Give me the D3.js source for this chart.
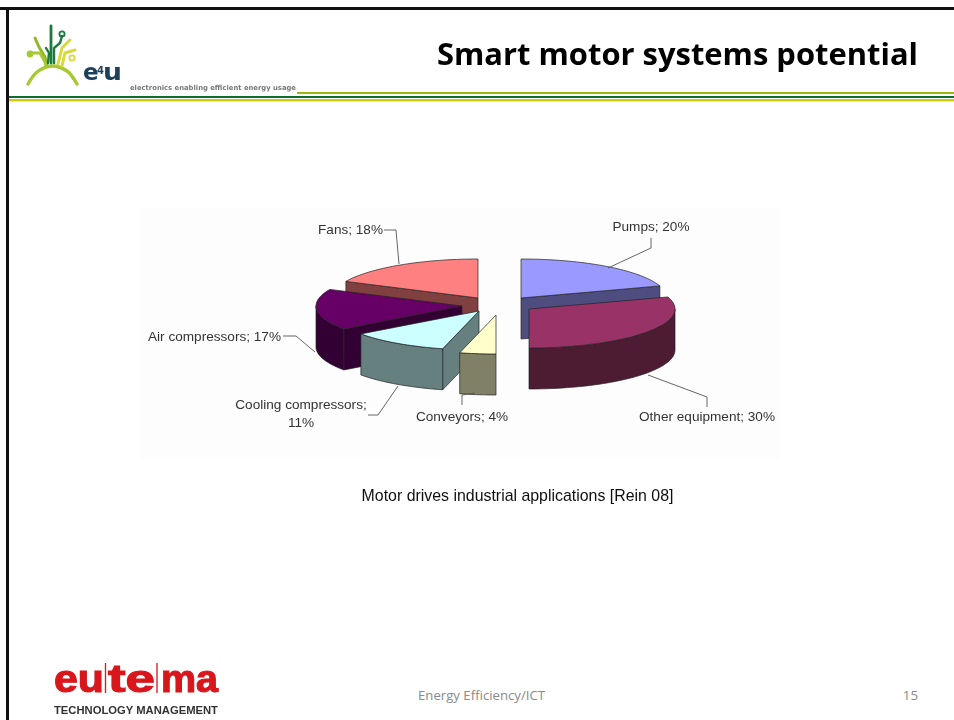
<!DOCTYPE html>
<html>
<head>
<meta charset="utf-8">
<script src="https://cdn.jsdelivr.net/npm/d3@7"></script>
<style>
  html, body { margin: 0; padding: 0; background: #fff; overflow: hidden; }
  svg { display: block; }
</style>
</head>
<body>
<div id="main"></div>
<script>
// values
const categories = ["Pumps", "Other equipment", "Conveyors", "Cooling compressors", "Air compressors", "Fans"];
const shares = [20, 30, 4, 11, 17, 18];

const topColors = ["#9999ff", "#993366", "#ffffcc", "#ccffff", "#660066", "#ff8080"];
const sideColors = ["#4d4d80", "#4d1a33", "#808066", "#668080", "#330033", "#804040"];

// exploded position of every slice tip
const sliceTips = [[521, 298], [529, 309], [496, 315], [479, 311], [462, 306], [478, 298]];
const paintOrder = [5, 0, 4, 1, 3, 2];

const labelLines = [
  { x: 651, y: 231, anchor: "middle", rows: ["Pumps; 20%"], leader: [[651, 238], [651, 248], [608, 268]] },
  { x: 707, y: 421, anchor: "middle", rows: ["Other equipment; 30%"], leader: [[648, 375], [707, 397], [707, 407]] },
  { x: 462, y: 421, anchor: "middle", rows: ["Conveyors; 4%"], leader: [[475, 393], [462, 395], [462, 405]] },
  { x: 301, y: 409, anchor: "middle", rows: ["Cooling compressors;", "11%"], leader: [[398, 386], [378, 415], [368, 415]] },
  { x: 281, y: 341, anchor: "end", rows: ["Air compressors; 17%"], leader: [[283, 336], [296, 336], [315, 352]] },
  { x: 383, y: 234, anchor: "end", rows: ["Fans; 18%"], leader: [[384, 230], [396, 230], [399, 264]] }
];

const rx = 146, ry = 39, depth = 41;
const width = 954, height = 720;

const svg = d3.select("#main").append("svg")
  .attr("width", width)
  .attr("height", height)
  .attr("viewBox", [0, 0, width, height]);

const defs = svg.append("defs");
defs.append("filter").attr("id", "soft").append("feGaussianBlur").attr("stdDeviation", 0.65);
defs.append("filter").attr("id", "faint").append("feGaussianBlur").attr("stdDeviation", 0.3);

// slide frame
svg.append("rect").attr("x", 0).attr("y", 7).attr("width", width).attr("height", 3).attr("fill", "#111");
svg.append("rect").attr("x", 6).attr("y", 7).attr("width", 3).attr("height", height - 7).attr("fill", "#111");

// header rules
svg.append("rect").attr("x", 297).attr("y", 92).attr("width", width - 297).attr("height", 2).attr("fill", "#9cb80e");
svg.append("rect").attr("x", 9).attr("y", 96).attr("width", width - 9).attr("height", 2).attr("fill", "#0f6b2e");
svg.append("rect").attr("x", 9).attr("y", 99).attr("width", width - 9).attr("height", 2.4).attr("fill", "#cdd000");

svg.append("text")
  .attr("x", 437).attr("y", 65)
  .attr("textLength", 481).attr("lengthAdjust", "spacingAndGlyphs")
  .attr("filter", "url(#faint)")
  .style("font", "bold 31px 'Open Sans'")
  .attr("fill", "#000")
  .text("Smart motor systems potential");

// e4u logo
const logo = svg.append("g").attr("filter", "url(#soft)").attr("fill", "none").attr("stroke-linecap", "round");
const curve = d3.line().curve(d3.curveLinear);
const arcCurve = d3.line().curve(d3.curveCatmullRom);
logo.append("path")
  .attr("d", arcCurve([[28, 84], [37, 72], [52, 66], [67, 71], [77, 84]]))
  .attr("stroke", "#a6c832").attr("stroke-width", 3.4);
const logoStrokes = [
  { c: "#8fb92c", w: 3, p: [[35, 38], [39, 47], [45, 57], [47, 65]] },
  { c: "#a6c832", w: 3, p: [[30, 53], [40, 53], [45, 62], [46, 66]] },
  { c: "#d8d93a", w: 3, p: [[70, 40], [62, 48], [58, 64]] },
  { c: "#d8d93a", w: 3, p: [[75, 50], [65, 53], [62, 66]] },
  { c: "#1d7a3e", w: 2.8, p: [[51, 26], [51, 63]] },
  { c: "#1d7a3e", w: 2.4, p: [[46, 48], [49, 53], [48, 63]] },
  { c: "#1d7a3e", w: 2.4, p: [[62, 36], [60, 43], [54, 48], [54, 63]] }
];
logo.selectAll("path.branch").data(logoStrokes).join("path")
  .attr("class", "branch")
  .attr("d", d => curve(d.p))
  .attr("stroke", d => d.c)
  .attr("stroke-width", d => d.w);
logo.append("circle").attr("cx", 62).attr("cy", 34).attr("r", 2.6).attr("stroke", "#1d7a3e").attr("stroke-width", 1.8);
logo.append("circle").attr("cx", 30).attr("cy", 54).attr("r", 3.4).attr("fill", "#a6c832");
logo.append("circle").attr("cx", 72).attr("cy", 58).attr("r", 2.6).attr("stroke", "#d8d93a").attr("stroke-width", 1.8);

const brand = svg.append("g").attr("filter", "url(#faint)");
brand.append("text").attr("x", 83).attr("y", 80).attr("fill", "#1b3f5c")
  .style("font", "bold 23px 'DejaVu Sans'").text("e");
brand.append("text").attr("x", 97).attr("y", 74).attr("fill", "#1b3f5c")
  .style("font", "bold 10px 'DejaVu Sans'").text("4");
brand.append("text").attr("x", 103).attr("y", 80).attr("fill", "#1b3f5c")
  .attr("textLength", 19).attr("lengthAdjust", "spacingAndGlyphs")
  .style("font", "bold 23px 'DejaVu Sans'").text("u");
brand.append("text").attr("x", 130).attr("y", 90).attr("fill", "#777")
  .attr("textLength", 166).attr("lengthAdjust", "spacingAndGlyphs")
  .attr("filter", "url(#soft)")
  .style("font", "bold 7px 'DejaVu Sans'")
  .text("electronics enabling efficient energy usage");

// pie picture
const picture = svg.append("g").attr("filter", "url(#soft)");
picture.append("rect").attr("x", 140).attr("y", 208).attr("width", 640).attr("height", 250).attr("fill", "#fdfdfd");

const arcs = d3.pie().sort(null).value(d => d)(shares);

function project(i, a, drop) {
  const [tx, ty] = sliceTips[i];
  return [tx + rx * Math.sin(a), ty - ry * Math.cos(a) + drop];
}

function rim(i, a0, a1, drop) {
  const n = Math.max(2, Math.ceil((a1 - a0) / 0.03));
  return d3.range(n + 1).map(k => project(i, a0 + (a1 - a0) * k / n, drop));
}

const line = d3.line();

paintOrder.forEach(i => {
  const { startAngle: a0, endAngle: a1 } = arcs[i];
  const [tx, ty] = sliceTips[i];
  const g = picture.append("g").attr("stroke", "#222").attr("stroke-width", 0.7).attr("stroke-linejoin", "round");

  // cut faces that look towards the viewer
  [[a0, -Math.PI / 2], [a1, Math.PI / 2]].forEach(([a, turn]) => {
    if (Math.cos(a + turn) < -1e-6) {
      const e = project(i, a, 0), e2 = project(i, a, depth);
      g.append("path")
        .attr("d", line([[tx, ty], e, e2, [tx, ty + depth]]) + "Z")
        .attr("fill", sideColors[i]);
    }
  });

  // curved wall, front half of the rim only
  const w0 = Math.max(a0, Math.PI / 2), w1 = Math.min(a1, Math.PI * 3 / 2);
  if (w1 > w0) {
    g.append("path")
      .attr("d", line(rim(i, w0, w1, 0).concat(rim(i, w0, w1, depth).reverse())) + "Z")
      .attr("fill", sideColors[i]);
  }

  g.append("path")
    .attr("d", line([[tx, ty]].concat(rim(i, a0, a1, 0))) + "Z")
    .attr("fill", topColors[i]);
});

// slice labels
const labels = picture.selectAll("g.label").data(labelLines).join("g").attr("class", "label");
labels.append("path")
  .attr("d", d => line(d.leader))
  .attr("fill", "none").attr("stroke", "#555").attr("stroke-width", 0.9);
labels.each(function (d) {
  d3.select(this).selectAll("text").data(d.rows).join("text")
    .attr("x", d.x)
    .attr("y", (r, k) => d.y + k * 18)
    .attr("text-anchor", d.anchor)
    .attr("fill", "#333")
    .style("font", "13.6px 'Liberation Sans'")
    .text(r => r);
});

svg.append("text")
  .attr("x", 517.5).attr("y", 501)
  .attr("text-anchor", "middle")
  .attr("fill", "#111")
  .attr("filter", "url(#faint)")
  .style("font", "15.9px 'Liberation Sans'")
  .text("Motor drives industrial applications [Rein 08]");

// eutema logo
const eutema = svg.append("g").attr("filter", "url(#soft)");
const eutemaParts = [
  { t: "eu", x: 54, w: 50 },
  { t: "te", x: 108, w: 47 },
  { t: "ma", x: 161, w: 57 }
];
eutema.selectAll("text.part").data(eutemaParts).join("text")
  .attr("class", "part")
  .attr("x", d => d.x).attr("y", 692)
  .attr("textLength", d => d.w).attr("lengthAdjust", "spacingAndGlyphs")
  .attr("fill", "#d8141c")
  .attr("stroke", "#d8141c").attr("stroke-width", 1.1)
  .style("font", "bold 38px 'Liberation Sans'")
  .text(d => d.t);
eutema.selectAll("line").data([105.5, 157]).join("line")
  .attr("x1", d => d).attr("x2", d => d)
  .attr("y1", 663).attr("y2", 693)
  .attr("stroke", "#d8141c").attr("stroke-width", 1.3);
eutema.append("text")
  .attr("x", 54).attr("y", 714)
  .attr("textLength", 164).attr("lengthAdjust", "spacingAndGlyphs")
  .attr("fill", "#333")
  .style("font", "bold 10.5px 'Liberation Sans'")
  .text("TECHNOLOGY MANAGEMENT");

// footer
svg.append("text").attr("x", 418).attr("y", 700).attr("fill", "#8a8a8a")
  .attr("textLength", 127).attr("lengthAdjust", "spacingAndGlyphs")
  .style("font", "13.3px 'Open Sans'").text("Energy Efficiency/ICT");
svg.append("text").attr("x", 918).attr("y", 700).attr("text-anchor", "end").attr("fill", "#8a8a8a")
  .style("font", "13.3px 'Open Sans'").text("15");
</script>
</body>
</html>
